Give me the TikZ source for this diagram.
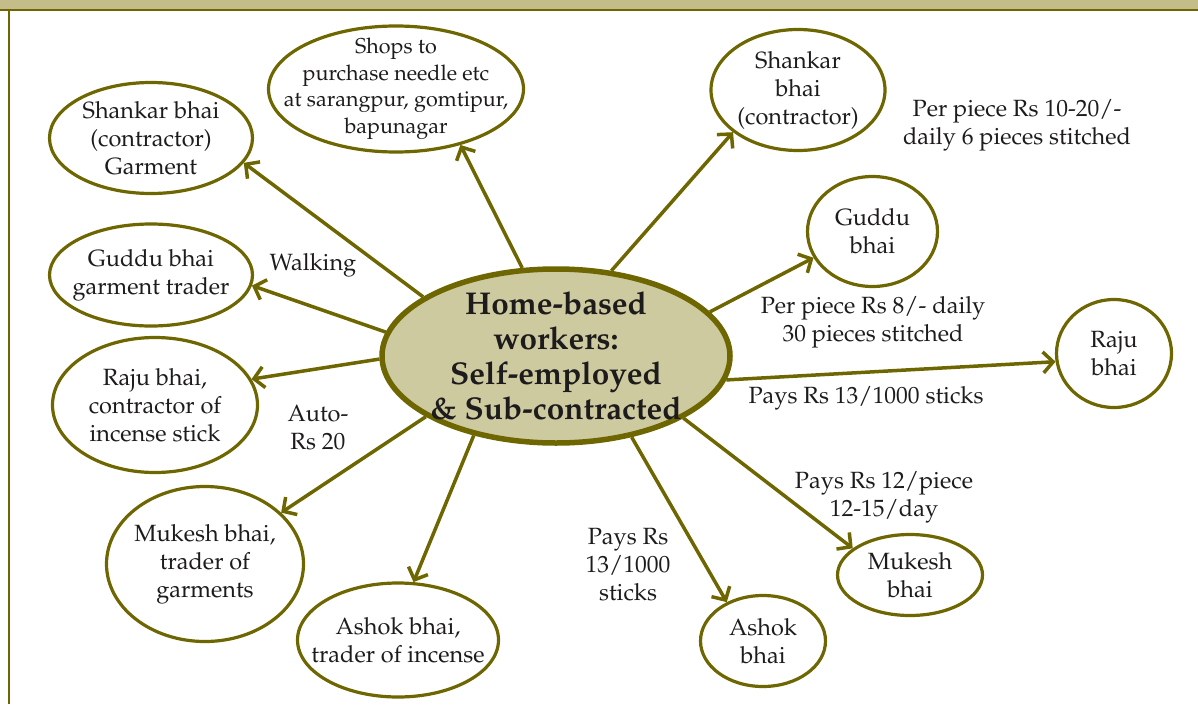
\documentclass[tikz,border=0pt]{standalone}
\usepackage[T1]{fontenc}
\usepackage{mathpazo}
\usetikzlibrary{shapes.geometric,arrows.meta}
\definecolor{olv}{RGB}{110,102,0}
\definecolor{hub}{RGB}{205,202,160}
\definecolor{band}{RGB}{196,189,137}
\definecolor{ink}{RGB}{30,27,28}
\tikzset{
  ell/.style={ellipse, draw=olv, line width=3.2pt, inner sep=0pt, fill=white},
  lbl/.style={text=ink, align=center, font=\fontsize{23.5}{28}\selectfont, inner sep=0pt},
  arr/.style={draw=olv, line width=3.5pt, -{Straight Barb[length=10pt,width=21pt]}},
}
\begin{document}
\begin{tikzpicture}[x=1pt,y=-1pt]
\useasboundingbox (0,0) rectangle (1198,704);
% header band and frame
\fill[band] (0,0) rectangle (1198,10);
\draw[olv, line width=2pt] (0,10) -- (1198,10);
\draw[olv, line width=2pt] (8.5,10) -- (8.5,704);

% hub
\node[ell, line width=5.5pt, fill=hub, minimum width=348pt, minimum height=174pt,
  label={[lbl, font=\bfseries\fontsize{31.5}{35}\selectfont]center:{Home-based\\workers:\\Self-employed\\\& Sub-contracted}}] (c) at (556,356) {};

% outer nodes
\node[ell, minimum width=203pt, minimum height=111pt, label={[lbl]center:{Shankar bhai\\(contractor)\\Garment}}] (s1) at (151,138) {};
\node[ell, minimum width=255pt, minimum height=126pt, label={[lbl, font=\fontsize{21.5}{26.5}\selectfont]center:{Shops to\\purchase needle etc\\at sarangpur, gomtipur,\\bapunagar}}] (shop) at (396,89) {};
\node[ell, minimum width=174pt, minimum height=121pt, label={[lbl]center:{Shankar\\bhai\\(contractor)}}] (s2) at (798,90) {};
\node[ell, minimum width=130pt, minimum height=110pt, label={[lbl]center:{Guddu\\bhai}}] (g2) at (872.5,231.5) {};
\node[ell, minimum width=115pt, minimum height=108pt, label={[lbl]center:{Raju\\bhai}}] (r2) at (1114,353.5) {};
\node[ell, minimum width=145pt, minimum height=81pt, label={[lbl]center:{Mukesh\\bhai}}] (m2) at (910,575) {};
\node[ell, minimum width=125pt, minimum height=91pt, label={[lbl]center:{Ashok\\bhai}}] (a2) at (763,641) {};
\node[ell, minimum width=201pt, minimum height=114pt, label={[lbl]center:{Ashok bhai,\\trader of incense}}] (a1) at (398,640) {};
\node[ell, minimum width=197pt, minimum height=155pt, label={[lbl]center:{Mukesh bhai,\\trader of\\garments}}] (m1) at (205,564) {};
\node[ell, minimum width=205pt, minimum height=135pt, label={[lbl]center:{Raju bhai,\\contractor of\\incense stick}}] (r1) at (155,405) {};
\node[ell, minimum width=203pt, minimum height=102pt, label={[lbl]center:{Guddu bhai\\garment trader}}] (g1) at (151,275) {};

% connectors
\draw[arr] (c.156.7) -- (s1.-15.2);
\draw[arr] (c.172.2) -- (g1.-6.7);
\draw[arr] (c.181.6) -- (r1.15.8);
\draw[arr] (c.205.3) -- (m1.34.2);
\draw[arr] (c.224.3) -- (a1.75.7);
\draw[arr] (c.-47.1) -- (a2.133.5);
\draw[arr] (c.-26.2) -- (m2.155);
\draw[arr] (c.-8.45) -- (r2.188.2);
\draw[arr] (c.16.5) -- (g2.204.9);
\draw[arr] (c.57.9) -- (s2.213.7);
\draw[arr] (c.111.7) -- (shop.-41.1);

% free labels
\node[lbl] (walk) at (313,265) {Walking};
\node[lbl] (auto) at (318,428) {Auto-\\Rs 20};
\node[lbl] (p1020) at (1017,125) {Per piece Rs 10-20/-\\daily 6 pieces stitched};
\node[lbl] (p8) at (873,322) {Per piece Rs 8/- daily\\30 pieces stitched};
\node[lbl] (p13a) at (866,398) {Pays Rs 13/1000 sticks};
\node[lbl] (p12) at (884,497) {Pays Rs 12/piece\\12-15/day};
\node[lbl] (p13b) at (628,565) {Pays Rs\\13/1000\\sticks};
\end{tikzpicture}
\end{document}
